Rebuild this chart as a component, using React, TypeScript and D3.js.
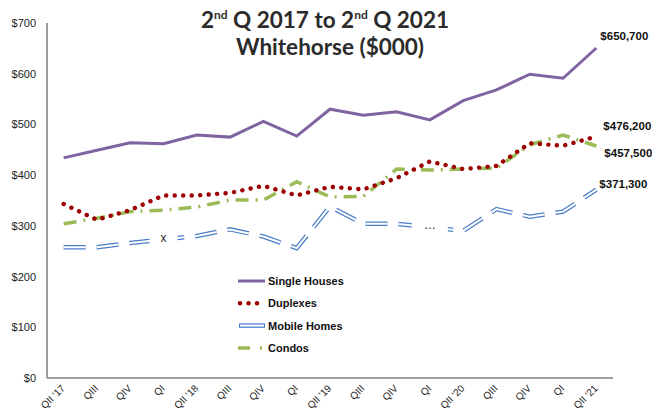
import React from 'react';
import * as d3 from 'd3';

const quarters = ["QII '17", 'QIII', 'QIV', 'QI', "QII '18", 'QIII', 'QIV', 'QI', "QII '19", 'QIII', 'QIV', 'QI', "QII '20", 'QIII', 'QIV', 'QI', "QII '21"];

const singleHouses = [434, 449, 464, 462, 479, 475, 506, 477, 530, 518, 525, 509, 547, 568, 599, 591, 650.7];
const duplexes = [343, 312, 331, 360, 360, 365, 379, 360, 377, 372, 394, 427, 412, 418, 463, 458, 476.2];
const mobileHomes = [258, 258, 266, null, 280, 293, 279, 256, 338, 304, 304, null, 290, 333, 318, 328, 371.3];
const condos = [304, 315, 328, 331, 337, 351, 351, 387, 357, 358, 412, 410, 412, 414, 460, 479, 457.5];

const yTicks = [0, 100, 200, 300, 400, 500, 600, 700];

// marks shown where mobile home values were suppressed
const suppressed = [
  { index: 3, text: 'x', value: 276, w: 28 },
  { index: 11, text: '…', value: 302, w: 36 },
];

const endLabels = [
  { text: '$650,700', value: 650.7, dy: -8, dx: 4 },
  { text: '$476,200', value: 476.2, dy: -6, dx: 7 },
  { text: '$457,500', value: 457.5, dy: 11, dx: 8 },
  { text: '$371,300', value: 371.3, dy: -2, dx: 3 },
];

const W = 652;
const H = 418;
const left = 47;
const right = 613;
const top = 23;
const bottom = 378;

export default function App() {
  const x = d3.scaleBand<number>().domain(d3.range(quarters.length)).range([left, right]);
  const cx = (i: number) => x(i)! + x.bandwidth() / 2;
  const y = d3.scaleLinear().domain([0, 700]).range([bottom, top]);

  const line = d3.line<number>()
    .x((d, i) => cx(i))
    .y(d => y(d));

  // mobile homes: skip the missing quarters but keep the line joined
  const mobilePts = mobileHomes
    .map((v, i) => [i, v] as [number, number | null])
    .filter(p => p[1] !== null) as [number, number][];
  const mobileLine = d3.line<[number, number]>().x(d => cx(d[0])).y(d => y(d[1]));

  const font = 'Liberation Sans, Arial, sans-serif';
  const legend = [
    { name: 'Single Houses', key: 'sh' },
    { name: 'Duplexes', key: 'dp' },
    { name: 'Mobile Homes', key: 'mh' },
    { name: 'Condos', key: 'cd' },
  ];

  return (
    <svg width={W} height={H} style={{ position: 'absolute', left: 0, top: 0, background: '#fff' }}>
      {/* title */}
      <text x={325} y={28} textAnchor="middle" fontFamily="Lato, sans-serif" fontWeight="700" fontSize={22.5} fill="#2b2b2b">
        2<tspan fontSize={12} dy={-9}>nd</tspan><tspan dy={9}> Q 2017 to 2</tspan><tspan fontSize={12} dy={-9}>nd</tspan><tspan dy={9}> Q 2021</tspan>
      </text>
      <text x={330} y={55} textAnchor="middle" fontFamily="Lato, sans-serif" fontWeight="700" fontSize={22.5} fill="#2b2b2b">
        Whitehorse ($000)
      </text>

      {/* axes */}
      <line x1={left} x2={left} y1={top} y2={bottom} stroke="#7f7f7f" strokeWidth={1.5} />
      <line x1={left} x2={right} y1={bottom} y2={bottom} stroke="#7f7f7f" strokeWidth={1.5} />
      {yTicks.map(t => (
        <text key={t} x={36} y={y(t) + 4} textAnchor="end" fontFamily={font} fontSize={11} fill="#222">
          ${t}
        </text>
      ))}
      {quarters.map((q, i) => (
        <text key={i} transform={`translate(${cx(i) + 2},${bottom + 11}) rotate(-45)`} textAnchor="end"
          fontFamily={font} fontSize={10} fill="#222">
          {q}
        </text>
      ))}

      {/* series */}
      <path d={mobileLine(mobilePts)!} fill="none" stroke="#4a7ec8" strokeWidth={4.5} strokeDasharray="22 11" />
      <path d={mobileLine(mobilePts)!} fill="none" stroke="#fff" strokeWidth={2} strokeDasharray="22 11" />
      {suppressed.map(s => (
        <g key={s.index}>
          <rect x={cx(s.index) - s.w / 2} y={y(s.value) - 12} width={s.w} height={22} fill="#fff" />
          <text x={cx(s.index)} y={y(s.value) + 4} textAnchor="middle" fontFamily={font} fontSize={12} fill="#222">
            {s.text}
          </text>
        </g>
      ))}
      <path d={line(condos)!} fill="none" stroke="#9bbb59" strokeWidth={3.5} strokeDasharray="13 7 2 7" />
      <path d={line(duplexes)!} fill="none" stroke="#9c0000" strokeWidth={4.4} strokeDasharray="0.1 8.4" strokeLinecap="round" />
      <path d={line(singleHouses)!} fill="none" stroke="#8064a2" strokeWidth={3} />

      {endLabels.map(l => (
        <text key={l.text} x={cx(quarters.length - 1) + l.dx} y={y(l.value) + l.dy} fontFamily={font} fontWeight="700" fontSize={11.5} fill="#111">
          {l.text}
        </text>
      ))}

      {/* legend */}
      {legend.map((d, i) => {
        const ly = 281 + i * 22.3;
        return (
          <g key={d.key}>
            {d.key === 'sh' && <line x1={238} x2={265} y1={ly} y2={ly} stroke="#8064a2" strokeWidth={3} />}
            {d.key === 'dp' && <line x1={240} x2={262} y1={ly} y2={ly} stroke="#9c0000" strokeWidth={4.4} strokeDasharray="0.1 8.4" strokeLinecap="round" />}
            {d.key === 'mh' && (
              <g>
                <line x1={239} x2={265} y1={ly} y2={ly} stroke="#4a7ec8" strokeWidth={4.5} />
                <line x1={240} x2={264} y1={ly} y2={ly} stroke="#fff" strokeWidth={2} />
              </g>
            )}
            {d.key === 'cd' && <line x1={238} x2={265} y1={ly} y2={ly} stroke="#9bbb59" strokeWidth={3.5} strokeDasharray="12 10 2 7" />}
            <text x={268} y={ly + 4} fontFamily={font} fontWeight="700" fontSize={11} fill="#111">{d.name}</text>
          </g>
        );
      })}
    </svg>
  );
}
